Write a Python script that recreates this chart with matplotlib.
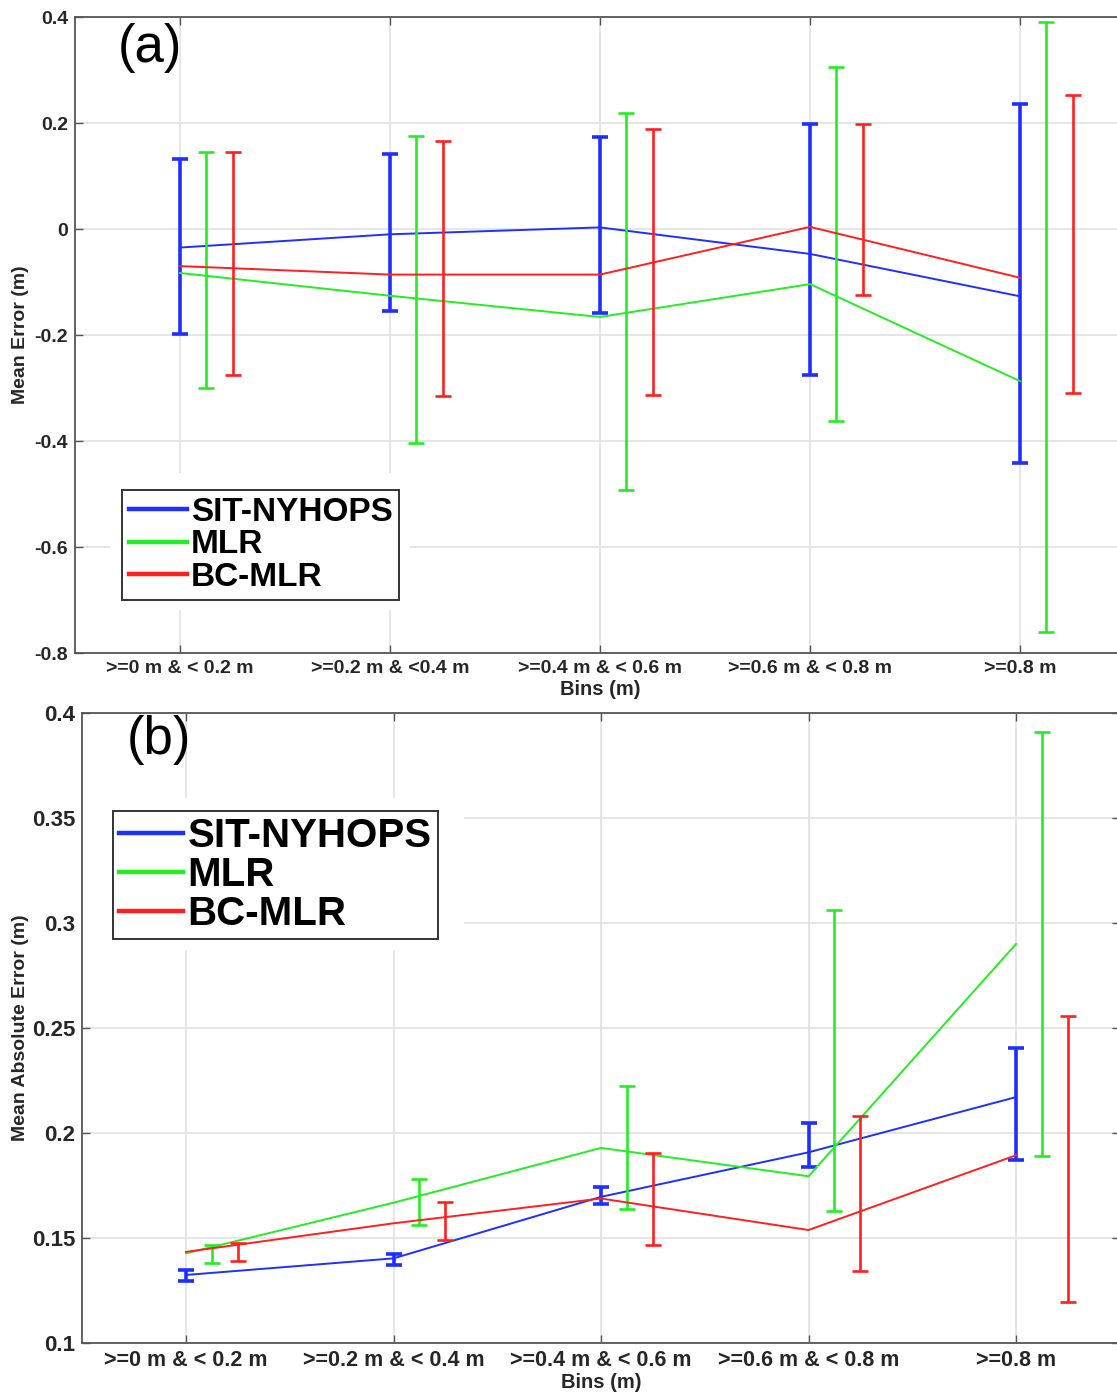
import matplotlib.pyplot as plt
import numpy as np
from matplotlib.lines import Line2D
from matplotlib.patches import Rectangle

plt.rcParams['font.family'] = ['Liberation Sans', 'DejaVu Sans']

# bins of observed water level
bins_a = ['>=0 m & < 0.2 m', '>=0.2 m & <0.4 m', '>=0.4 m & < 0.6 m', '>=0.6 m & < 0.8 m', '>=0.8 m']
bins_b = ['>=0 m & < 0.2 m', '>=0.2 m & < 0.4 m', '>=0.4 m & < 0.6 m', '>=0.6 m & < 0.8 m', '>=0.8 m']
models = ['SIT-NYHOPS', 'MLR', 'BC-MLR']

# mean error per bin, with lower / upper ends of the error bars
me_nyhops = [-0.035, -0.010, 0.003, -0.047, -0.127]
me_nyhops_lo = [-0.199, -0.155, -0.158, -0.276, -0.442]
me_nyhops_hi = [0.133, 0.141, 0.174, 0.199, 0.236]
me_mlr = [-0.083, -0.126, -0.166, -0.104, -0.287]
me_mlr_lo = [-0.300, -0.403, -0.493, -0.362, -0.760]
me_mlr_hi = [0.145, 0.176, 0.219, 0.306, 0.390]
me_bc = [-0.070, -0.086, -0.086, 0.004, -0.092]
me_bc_lo = [-0.276, -0.315, -0.313, -0.124, -0.309]
me_bc_hi = [0.146, 0.166, 0.189, 0.199, 0.253]

# mean absolute error per bin
mae_nyhops = [0.1324, 0.1403, 0.1696, 0.1908, 0.2171]
mae_nyhops_lo = [0.1297, 0.1373, 0.1663, 0.1839, 0.1873]
mae_nyhops_hi = [0.1347, 0.1424, 0.1744, 0.2047, 0.2403]
mae_mlr = [0.1427, 0.1668, 0.1929, 0.1794, 0.2900]
mae_mlr_lo = [0.1383, 0.1562, 0.1636, 0.1628, 0.1889]
mae_mlr_hi = [0.1465, 0.1783, 0.2222, 0.3062, 0.3910]
mae_bc = [0.1434, 0.1570, 0.1688, 0.1538, 0.1894]
mae_bc_lo = [0.1392, 0.1490, 0.1465, 0.1345, 0.1193]
mae_bc_hi = [0.1478, 0.1672, 0.1907, 0.2079, 0.2557]

colors = ['#1f2fff', '#22ee22', '#ff1f1f']
offsets = [0.0, 0.125, 0.25]
bar_lw = [2.6, 1.9, 1.9]

W, H = 1117, 1394
fig = plt.figure(figsize=(W / 100, H / 100), dpi=100)


def px_axes(left, top, right, bottom):
    return fig.add_axes([left / W, 1 - bottom / H, (right - left) / W, (bottom - top) / H])


def draw_panel(ax, series, bins, ylim, yticks, ytick_fmt, xtick_size, ytick_size, ylabel):
    x = np.arange(1, len(bins) + 1)
    for (val, lo, hi), c, off, blw in zip(series, colors, offsets, bar_lw):
        val = np.array(val)
        lo = np.array(lo)
        hi = np.array(hi)
        ax.plot(x, val, color=c, lw=1.4, zorder=3)
        ax.errorbar(x + off, val, yerr=[val - lo, hi - val], fmt='none', ecolor=c,
                    elinewidth=blw, capsize=5.5, capthick=blw, zorder=3)
    ax.set_xlim(0.5, len(bins) + 0.5)
    ax.set_ylim(*ylim)
    ax.set_xticks(x)
    ax.set_xticklabels(bins, fontsize=xtick_size, fontweight='bold', color='#262626')
    ax.set_yticks(yticks)
    ax.set_yticklabels([ytick_fmt(v) for v in yticks], fontsize=ytick_size,
                       fontweight='bold', color='#262626')
    ax.tick_params(direction='in', top=True, right=True, length=6, color='#555555',
                   width=1.0, pad=5)
    ax.set_axisbelow(True)
    ax.grid(True, color='#e2e2e2', lw=1.2)
    for s in ax.spines.values():
        s.set_color('#555555')
        s.set_linewidth(1.3)
    ax.set_xlabel('Bins (m)', fontsize=14.5, fontweight='bold', color='#262626')
    ax.set_ylabel(ylabel, fontsize=14, fontweight='bold', color='#262626')
    ax.xaxis.label.set_va('center')
    ax.yaxis.label.set_va('center')
    ax.yaxis.label.set_ha('center')


def fmt_a(v):
    if abs(v) < 1e-9:
        return '0'
    return f'{v:.1f}'


def fmt_b(v):
    s = f'{v:.2f}'.rstrip('0')
    return s


# (a) mean error
ax1 = px_axes(75, 17, 1125, 653)
draw_panel(ax1,
           [(me_nyhops, me_nyhops_lo, me_nyhops_hi),
            (me_mlr, me_mlr_lo, me_mlr_hi),
            (me_bc, me_bc_lo, me_bc_hi)],
           bins_a, (-0.8, 0.4), np.arange(-0.8, 0.41, 0.2), fmt_a, 14, 14, 'Mean Error (m)')
ax1.yaxis.set_label_coords((20 - 75) / 1050, 0.5)
ax1.xaxis.set_label_coords(0.5, -0.057)
ax1.text(0.041, 0.951, '(a)', transform=ax1.transAxes, fontsize=38, va='center', ha='left')

# white area behind the legend hides the grid there
ax1.add_patch(Rectangle(((110 - 75) / 1050, (653 - 610) / 636), 300 / 1050, 137 / 636,
                        transform=ax1.transAxes, fc='white', ec='none', zorder=1))
handles = [Line2D([], [], color=c, lw=3.2) for c in colors]
leg1 = ax1.legend(handles, models, loc='upper left',
                  bbox_to_anchor=((122 - 75) / 1050, (653 - 490) / 636),
                  borderaxespad=0, frameon=True, fancybox=False, edgecolor='black',
                  prop={'weight': 'bold', 'size': 24}, handlelength=1.75,
                  handletextpad=0.12, labelspacing=0.05, borderpad=0.2)
leg1.get_frame().set_linewidth(1.4)

# (b) mean absolute error
ax2 = px_axes(82.25, 713, 1119.75, 1343)
draw_panel(ax2,
           [(mae_nyhops, mae_nyhops_lo, mae_nyhops_hi),
            (mae_mlr, mae_mlr_lo, mae_mlr_hi),
            (mae_bc, mae_bc_lo, mae_bc_hi)],
           bins_b, (0.1, 0.4), np.arange(0.1, 0.401, 0.05), fmt_b, 15.5, 16,
           'Mean Absolute Error (m)')
ax2.yaxis.set_label_coords((21 - 82.25) / 1037.5, 0.5)
ax2.xaxis.set_label_coords(0.5, -0.062)
ax2.text(0.043, 0.957, '(b)', transform=ax2.transAxes, fontsize=38, va='center', ha='left')

ax2.add_patch(Rectangle((0.0, (1343 - 950) / 630), (464 - 82.25) / 1037.5, 152 / 630,
                        transform=ax2.transAxes, fc='white', ec='none', zorder=1))
leg2 = ax2.legend(handles, models, loc='upper left',
                  bbox_to_anchor=((113 - 82.25) / 1037.5, (1343 - 811) / 630),
                  borderaxespad=0, frameon=True, fancybox=False, edgecolor='black',
                  prop={'weight': 'bold', 'size': 29}, handlelength=1.6,
                  handletextpad=0.1, labelspacing=0.02, borderpad=0.15)
leg2.get_frame().set_linewidth(1.4)

fig.savefig('out.png', dpi=100, facecolor='white')
